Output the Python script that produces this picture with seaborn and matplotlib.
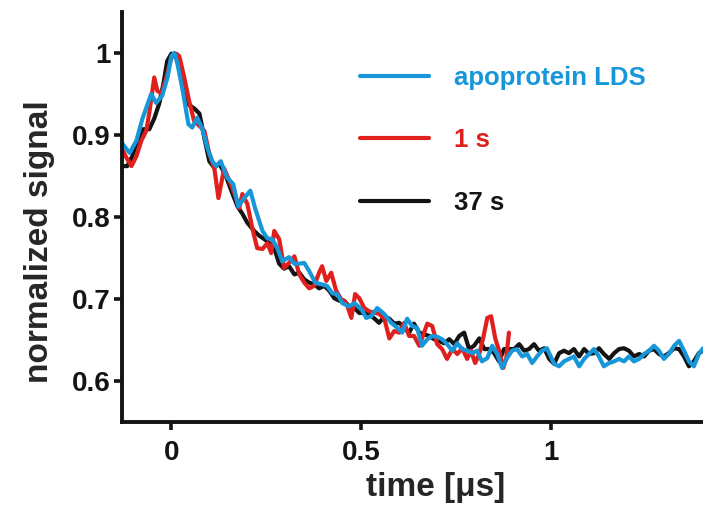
import matplotlib
matplotlib.use('Agg')
import matplotlib.pyplot as plt
import seaborn as sns

# time [us] and normalized signal
t_apo = [-0.13, -0.11, -0.092, -0.076, -0.066, -0.053, -0.04, -0.024, -0.01, 0.0, 0.008, 0.016, 0.03,
         0.045, 0.055, 0.068, 0.082, 0.095, 0.108, 0.118, 0.13, 0.147, 0.163, 0.176, 0.192,
         0.208, 0.221, 0.24, 0.253, 0.266, 0.279, 0.292, 0.31, 0.324, 0.337, 0.35, 0.363, 0.379,
         0.395, 0.41, 0.424, 0.437, 0.45, 0.468, 0.482, 0.5, 0.513, 0.526, 0.542, 0.56,
         0.579, 0.595, 0.608, 0.621, 0.634, 0.647, 0.66, 0.674, 0.687, 0.7, 0.713, 0.726, 0.74,
         0.753, 0.766, 0.779, 0.792, 0.805, 0.818, 0.832, 0.845, 0.858, 0.871, 0.884, 0.897,
         0.91, 0.924, 0.937, 0.95, 0.963, 0.976, 0.989,
         1.008, 1.021, 1.034, 1.047, 1.06, 1.074, 1.087, 1.1, 1.113, 1.126, 1.139, 1.153, 1.166,
         1.179, 1.192, 1.205, 1.218, 1.232, 1.245, 1.258, 1.271, 1.284, 1.297, 1.31, 1.324,
         1.337, 1.35, 1.363, 1.376, 1.389, 1.4]
sig_apo = [0.890, 0.878, 0.893, 0.920, 0.933, 0.950, 0.939, 0.948, 0.970, 0.996, 1.0, 0.987, 0.954,
           0.913, 0.909, 0.921, 0.907, 0.884, 0.868, 0.862, 0.868, 0.848, 0.840, 0.813, 0.823,
           0.832, 0.810, 0.783, 0.774, 0.773, 0.762, 0.746, 0.751, 0.743, 0.743, 0.744, 0.734, 0.720,
           0.718, 0.716, 0.707, 0.706, 0.695, 0.691, 0.695, 0.688, 0.677, 0.679, 0.689, 0.682,
           0.671, 0.665, 0.659, 0.676, 0.667, 0.665, 0.643, 0.651, 0.655, 0.654, 0.651, 0.645, 0.637,
           0.646, 0.639, 0.637, 0.634, 0.637, 0.624, 0.628, 0.643, 0.633, 0.616, 0.628, 0.637,
           0.639, 0.630, 0.633, 0.622, 0.630, 0.637, 0.640,
           0.621, 0.618, 0.624, 0.627, 0.630, 0.618, 0.627, 0.633, 0.639, 0.630, 0.618, 0.622, 0.624,
           0.627, 0.624, 0.630, 0.624, 0.627, 0.633, 0.637, 0.643, 0.637, 0.627, 0.633, 0.643,
           0.649, 0.637, 0.624, 0.618, 0.633, 0.640]

t_1s = [-0.13, -0.118, -0.105, -0.092, -0.079, -0.066, -0.058, -0.045, -0.037, -0.026, -0.013, 0.0,
        0.013, 0.021, 0.034, 0.047, 0.06, 0.074, 0.087, 0.1, 0.113, 0.124, 0.139, 0.153, 0.166,
        0.179, 0.187, 0.2,
        0.213, 0.226, 0.24, 0.253, 0.263, 0.271, 0.284, 0.297, 0.31, 0.324, 0.337, 0.35, 0.363,
        0.376, 0.389, 0.397, 0.408, 0.421, 0.434, 0.447, 0.461, 0.474, 0.484, 0.495, 0.508, 0.521,
        0.547, 0.561, 0.574, 0.587, 0.6, 0.613, 0.626, 0.639, 0.653, 0.674, 0.687, 0.7, 0.713,
        0.726, 0.74, 0.753, 0.766, 0.779, 0.789, 0.8, 0.811, 0.821, 0.832, 0.842, 0.853, 0.863,
        0.874, 0.882, 0.889]
sig_1s = [0.883, 0.872, 0.862, 0.874, 0.893, 0.905, 0.927, 0.970, 0.954, 0.950, 0.970, 0.994,
          0.999, 0.996, 0.970, 0.941, 0.917, 0.911, 0.905, 0.877, 0.860, 0.823, 0.859, 0.844, 0.829,
          0.811, 0.828, 0.816,
          0.787, 0.762, 0.761, 0.768, 0.756, 0.783, 0.773, 0.738, 0.744, 0.752, 0.730, 0.720, 0.713,
          0.716, 0.732, 0.740, 0.722, 0.732, 0.710, 0.700, 0.695, 0.677, 0.706, 0.701, 0.689, 0.685,
          0.682, 0.676, 0.652, 0.661, 0.659, 0.671, 0.655, 0.655, 0.643, 0.670, 0.667, 0.645, 0.639,
          0.627, 0.639, 0.633, 0.640, 0.627, 0.637, 0.622, 0.633, 0.652, 0.677, 0.679, 0.652, 0.637,
          0.616, 0.628, 0.659]

t_37s = [-0.13, -0.116, -0.103, -0.089, -0.074, -0.058, -0.045, -0.032, -0.021, -0.011, 0.0, 0.013,
         0.026, 0.042, 0.061, 0.074, 0.087, 0.1, 0.113, 0.126, 0.142, 0.158, 0.174, 0.187,
         0.2, 0.218, 0.232, 0.245, 0.258, 0.271, 0.284, 0.297, 0.31, 0.324, 0.337, 0.35, 0.363,
         0.376, 0.389, 0.403, 0.416, 0.429, 0.442, 0.455, 0.468, 0.482, 0.495, 0.508, 0.521,
         0.547, 0.561, 0.574, 0.587, 0.6, 0.613, 0.626, 0.639, 0.653, 0.666, 0.679, 0.692, 0.705,
         0.718, 0.732, 0.745, 0.758, 0.771, 0.784, 0.797, 0.811, 0.824, 0.837, 0.85, 0.863, 0.876,
         0.889, 0.903, 0.916, 0.929, 0.942, 0.955, 0.968, 0.982,
         0.995, 1.008, 1.021, 1.034, 1.047, 1.06, 1.074, 1.087, 1.1, 1.113, 1.126, 1.139, 1.153,
         1.166, 1.179, 1.192, 1.205, 1.218, 1.232, 1.245, 1.258, 1.271, 1.284, 1.297, 1.31, 1.324,
         1.337, 1.35, 1.363, 1.376, 1.389, 1.4]
sig_37s = [0.862, 0.862, 0.874, 0.893, 0.907, 0.907, 0.920, 0.938, 0.962, 0.990, 0.999, 0.996,
           0.970, 0.938, 0.932, 0.926, 0.896, 0.868, 0.860, 0.865, 0.852, 0.832, 0.813, 0.804,
           0.793, 0.783, 0.777, 0.773, 0.768, 0.762, 0.743, 0.737, 0.740, 0.730, 0.732, 0.724, 0.720,
           0.718, 0.713, 0.716, 0.710, 0.701, 0.698, 0.698, 0.691, 0.689, 0.683, 0.683, 0.682,
           0.671, 0.679, 0.676, 0.670, 0.671, 0.665, 0.659, 0.670, 0.659, 0.657, 0.655, 0.651, 0.649,
           0.646, 0.651, 0.645, 0.655, 0.659, 0.639, 0.643, 0.652, 0.639, 0.639, 0.634, 0.624, 0.639,
           0.639, 0.639, 0.645, 0.637, 0.639, 0.645, 0.637, 0.640,
           0.627, 0.621, 0.634, 0.637, 0.634, 0.639, 0.630, 0.639, 0.633, 0.634, 0.640, 0.633, 0.627,
           0.634, 0.639, 0.640, 0.637, 0.630, 0.633, 0.630, 0.637, 0.639, 0.633, 0.630, 0.634, 0.640,
           0.639, 0.630, 0.618, 0.624, 0.634, 0.637]

labels = ['apoprotein LDS', '1 s', '37 s']
colors = ['#1797d9', '#e0201c', '#141414']

sns.set_style('ticks')
plt.rcParams['font.family'] = ['Liberation Sans', 'DejaVu Sans']
plt.rcParams['font.weight'] = 'bold'

fig = plt.figure(figsize=(7.03, 5.16), dpi=100)
ax = fig.add_axes([0.1735, 0.182, 0.8265, 0.795])

# black underneath, blue on top
sns.lineplot(x=t_37s, y=sig_37s, color=colors[2], lw=3.0, label=labels[2],
             estimator=None, sort=False, ax=ax)
sns.lineplot(x=t_1s, y=sig_1s, color=colors[1], lw=3.0, label=labels[1],
             estimator=None, sort=False, ax=ax)
sns.lineplot(x=t_apo, y=sig_apo, color=colors[0], lw=3.0, label=labels[0],
             estimator=None, sort=False, ax=ax)

ax.set_xlim(-0.13, 1.4)
ax.set_ylim(0.55, 1.05)
ax.set_xticks([0, 0.5, 1])
ax.set_xticklabels(['0', '0.5', '1'])
ax.set_yticks([0.6, 0.7, 0.8, 0.9, 1.0])
ax.set_yticklabels(['0.6', '0.7', '0.8', '0.9', '1'])
ax.tick_params(labelsize=20, width=2.6, length=6, direction='out', colors='#141414')
ax.tick_params(axis='x', pad=7)
ax.tick_params(axis='y', pad=2)
for lab in ax.get_xticklabels() + ax.get_yticklabels():
    lab.set_fontweight('bold')

sns.despine(ax=ax)
for s in ['left', 'bottom']:
    ax.spines[s].set_linewidth(2.8)
    ax.spines[s].set_color('#141414')

ax.set_xlabel('time [μs]', fontsize=24, fontweight='bold', labelpad=4, x=0.54)
ax.set_ylabel('normalized signal', fontsize=24, fontweight='bold', labelpad=12, y=0.44)

handles, labs = ax.get_legend_handles_labels()
order = [2, 1, 0]
leg = ax.legend([handles[i] for i in order], [labs[i] for i in order],
                loc='upper left', bbox_to_anchor=(0.37, 0.925), frameon=False,
                fontsize=18.5, handlelength=2.7, handletextpad=0.95, labelspacing=1.5)
for txt, ln in zip(leg.get_texts(), leg.get_lines()):
    txt.set_color(ln.get_color())
    txt.set_fontweight('bold')

fig.savefig('out.png', dpi=100)
